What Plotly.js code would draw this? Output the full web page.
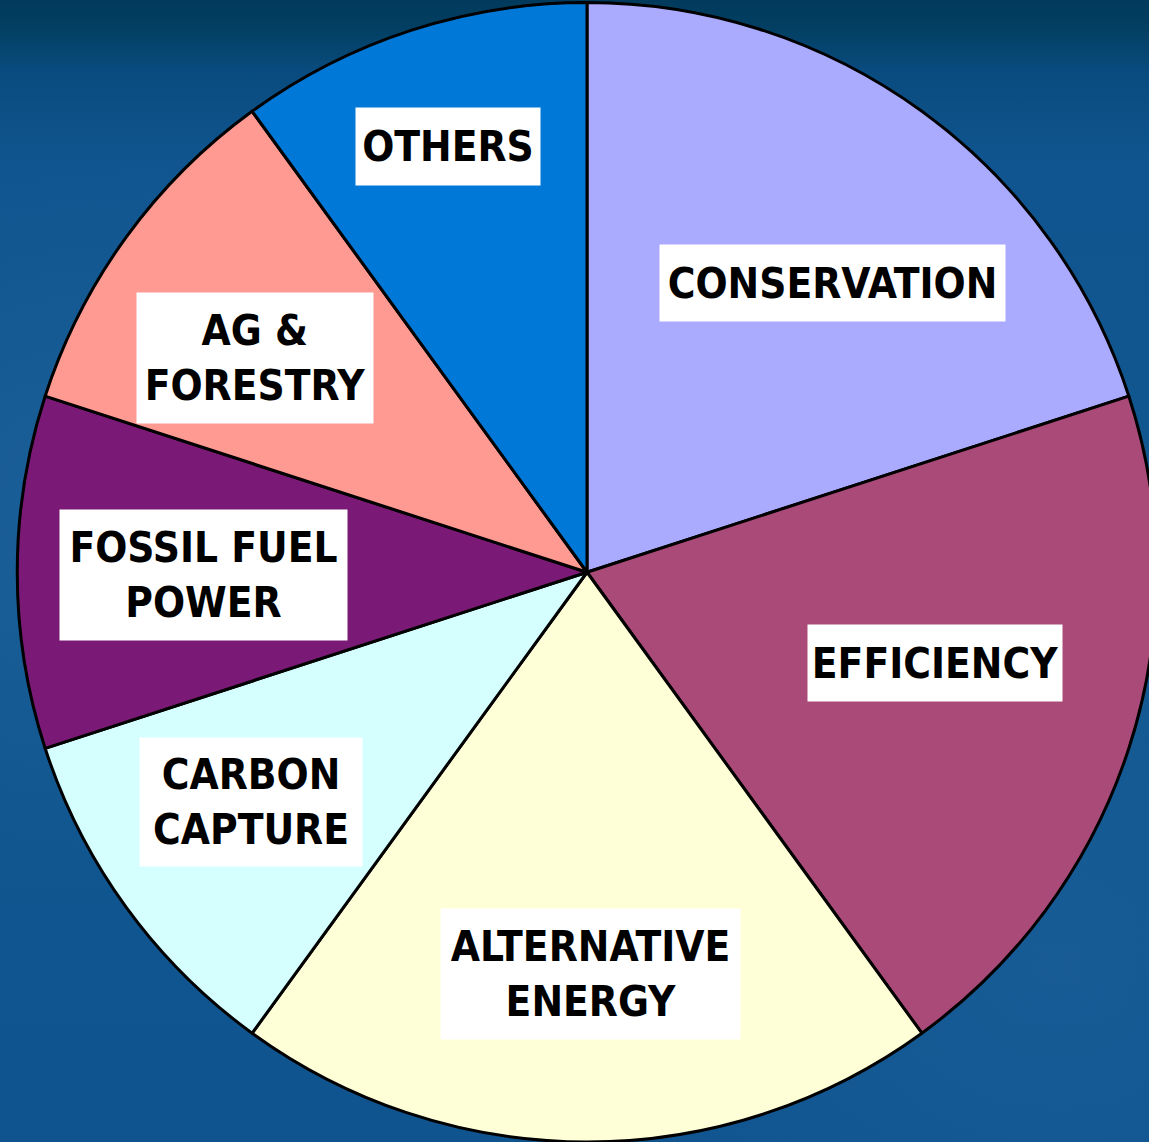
<!DOCTYPE html>
<html>
<head>
<meta charset="utf-8">
<script src="https://cdn.plot.ly/plotly-3.0.1.min.js"></script>
<style>
  html, body { margin: 0; padding: 0; overflow: hidden; width: 1149px; height: 1142px; }
  body {
    background:
      radial-gradient(ellipse at 15% 45%, rgba(80,140,200,0.18) 0%, rgba(80,140,200,0) 40%),
      radial-gradient(ellipse at 92% 85%, rgba(80,140,200,0.12) 0%, rgba(80,140,200,0) 35%),
      linear-gradient(to bottom, #013a5c 0px, #023f62 28px, #094b7e 70px, #10558f 160px, #11578f 600px, #0f548f 1142px);
  }
  #chart { width: 1180px; height: 1142px; }
</style>
</head>
<body>
<div id="chart"></div>
<script>
// Data
const categories = ['CONSERVATION', 'EFFICIENCY', 'ALTERNATIVE ENERGY', 'CARBON CAPTURE', 'FOSSIL FUEL POWER', 'AG & FORESTRY', 'OTHERS'];
const shares = [20, 20, 20, 10, 10, 10, 10];
const labelText = ['CONSERVATION', 'EFFICIENCY', 'ALTERNATIVE<br>ENERGY', 'CARBON<br>CAPTURE', 'FOSSIL FUEL<br>POWER', 'AG &amp;<br>FORESTRY', 'OTHERS'];

const sliceColors = ['#AAAAFF', '#AA4A78', '#FFFFD7', '#D5FFFF', '#7A1A76', '#FF9A93', '#0078D7'];

const W = 1180, H = 1142;
// label box centers / sizes in pixels (layout only)
const boxes = [
  {cx: 832, cy: 283, w: 345, h: 76},
  {cx: 935, cy: 663, w: 254, h: 76},
  {cx: 590, cy: 974, w: 299, h: 130},
  {cx: 251, cy: 802, w: 222, h: 128},
  {cx: 203, cy: 575, w: 287, h: 130},
  {cx: 255, cy: 358, w: 236, h: 130},
  {cx: 448, cy: 146, w: 184, h: 77}
];

const annotations = labelText.map((t, i) => ({
  text: t,
  xref: 'paper', yref: 'paper',
  x: boxes[i].cx / W, y: 1 - boxes[i].cy / H,
  xanchor: 'center', yanchor: 'middle',
  showarrow: false,
  bgcolor: '#FFFFFF',
  width: boxes[i].w, height: boxes[i].h,
  align: 'center', valign: 'middle',
  borderpad: 0,
  font: {family: 'DejaVu Sans Condensed, DejaVu Sans, sans-serif', size: 42, color: '#000000', weight: 'bold'}
}));

const R = 570, CX = 587, CY = 572.5;
const trace = {
  type: 'pie',
  labels: categories,
  values: shares,
  sort: false,
  direction: 'clockwise',
  rotation: 0,
  textinfo: 'none',
  hoverinfo: 'none',
  showlegend: false,
  marker: {colors: sliceColors, line: {color: '#000000', width: 3}},
  domain: {x: [(CX - R) / W, (CX + R) / W], y: [Math.max(0, (H - CY - R) / H), Math.min(1, (H - CY + R) / H)]}
};

const layout = {
  width: W, height: H,
  margin: {l: 0, r: 0, t: 0, b: 0},
  paper_bgcolor: 'rgba(0,0,0,0)',
  plot_bgcolor: 'rgba(0,0,0,0)',
  showlegend: false,
  annotations: annotations
};

Plotly.newPlot('chart', [trace], layout, {staticPlot: true, displayModeBar: false});
</script>
</body>
</html>
